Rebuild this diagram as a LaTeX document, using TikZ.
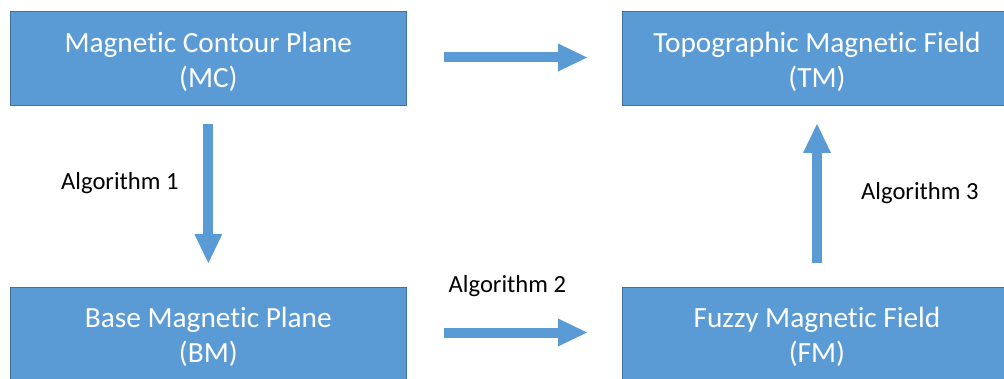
\documentclass[tikz,border=0pt]{standalone}
\usepackage{fontspec}
\setmainfont[Ligatures=NoCommon]{Carlito}
\usetikzlibrary{arrows.meta}
\definecolor{boxfill}{HTML}{5B9BD5}
\definecolor{boxline}{HTML}{41719C}
\tikzset{
  box/.style={draw=boxline, line width=1pt, fill=boxfill, inner sep=0pt, outer sep=0pt,
    minimum height=94pt},
  boxtext/.style={text=white, align=center, inner sep=0pt, yshift=-3pt,
    font=\fontsize{29.3pt}{34.5pt}\selectfont},
  flow/.style={draw=boxfill, line width=10pt,
    -{Triangle[length=29pt, width=28pt, line width=0pt]}},
  lbl/.style={anchor=base west, inner sep=0pt, font=\fontsize{24.6pt}{29pt}\selectfont}
}
\begin{document}
\begin{tikzpicture}[x=1pt,y=1pt]
\useasboundingbox (0,0) rectangle (1004,378);
\clip (0,0) rectangle (1004,378);
\fill[white] (0,0) rectangle (1004,378);
\node[box, minimum width=396.7pt, label={[boxtext]center:{Magnetic Contour Plane\\(MC)}}] (MC) at (208.35,319) {};
\node[box, minimum width=390pt, label={[boxtext]center:{Topographic Magnetic Field\\(TM)}}] (TM) at (817,319) {};
\node[box, minimum width=396.7pt, label={[boxtext]center:{Base Magnetic Plane\\(BM)}}] (BM) at (208.35,44) {};
\node[box, minimum width=390pt, label={[boxtext]center:{Fuzzy Magnetic Field\\(FM)}}] (FM) at (817,44) {};
\draw[flow, shorten <=37.3pt, shorten >=35pt] ([yshift=1.5pt]MC.east) -- ([yshift=1.5pt]TM.west);
\draw[flow, shorten <=37.3pt, shorten >=35pt] ([yshift=1.5pt]BM.east) -- ([yshift=1.5pt]FM.west);
\draw[flow, shorten <=18pt, shorten >=24pt] (MC.south) -- (BM.north);
\draw[flow, shorten <=24pt, shorten >=18pt] (FM.north) -- (TM.south);
\node[lbl] (a1) at (61,188.7) {Algorithm 1};
\node[lbl] (a2) at (448.5,86) {Algorithm 2};
\node[lbl] (a3) at (861,178.7) {Algorithm 3};
\end{tikzpicture}
\end{document}
